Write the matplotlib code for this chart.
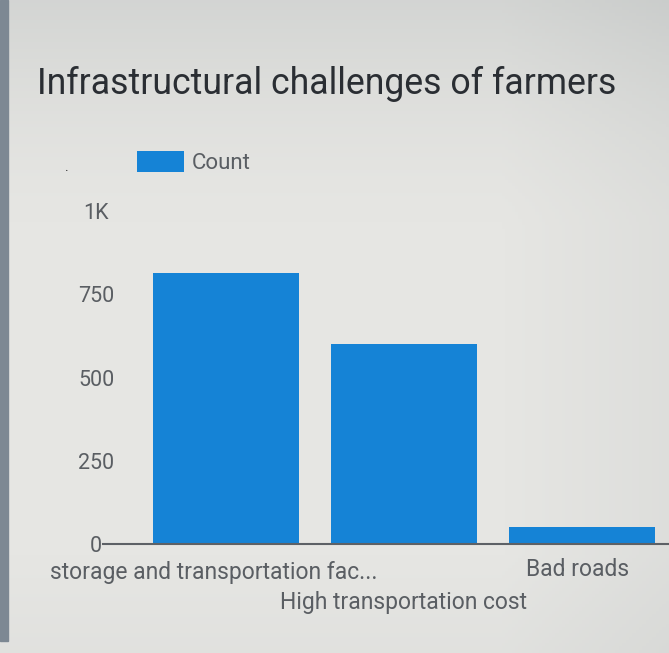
import numpy as np
import matplotlib
matplotlib.use("Agg")
import matplotlib.pyplot as plt
from matplotlib.colors import LinearSegmentedColormap

plt.rcParams['font.family'] = ['Roboto', 'DejaVu Sans']

title = "Infrastructural challenges of farmers"
categories = ["storage and transportation fac...", "High transportation cost", "Bad roads"]
counts = [815, 600, 50]
series_name = "Count"
y_ticks = [0, 250, 500, 750, 1000]
y_tick_labels = ["0", "250", "500", "750", "1K"]

bar_color = "#1583d6"
text_color = "#5a5e63"

W, H = 669, 653
fig = plt.figure(figsize=(W / 100, H / 100), dpi=100)

# screen-like backdrop: soft grey with darker top and right edge
bg = fig.add_axes([0, 0, 1, 1], zorder=-10)
yy, xx = np.mgrid[0:1:200j, 0:1:200j]
shade = 0.55 * np.clip(1 - yy / 0.35, 0, 1) ** 1.5 + 0.25 * np.clip((xx - 0.75) / 0.25, 0, 1) + 0.15 * np.clip((yy - 0.85) / 0.15, 0, 1)
cmap = LinearSegmentedColormap.from_list("bg", ["#e6e6e3", "#c4c7c6"])
bg.imshow(shade, cmap=cmap, vmin=0, vmax=1, extent=[0, 1, 0, 1], aspect="auto", origin="upper")
bg.axvspan(0, 8 / W, ymin=12 / H, ymax=1, color="#7d8893")
bg.set_xlim(0, 1)
bg.set_ylim(0, 1)
bg.axis("off")

fig.text(37 / W, 1 - 84 / H, title, fontsize=25.7, color="#2a2e33", va="center", ha="left")

ax = fig.add_axes([103 / W, (H - 544) / H, (W - 103) / W, (544 - 211) / H])
ax.patch.set_alpha(0)
x = np.arange(len(categories))
ax.bar(x, counts, width=0.82, color=bar_color, label=series_name, zorder=2)
ax.set_xlim(-0.69, 2.49)
ax.set_ylim(0, 1000)
for s in ["top", "right", "left"]:
    ax.spines[s].set_visible(False)
ax.spines["bottom"].set_color("#5d6166")
ax.spines["bottom"].set_linewidth(1.5)
ax.spines["bottom"].set_zorder(3)
ax.set_yticks(y_ticks)
ax.set_yticklabels(y_tick_labels)
ax.tick_params(axis="y", length=0, pad=5, labelsize=15.5, labelcolor=text_color)
for t in ax.get_yticklabels():
    t.set_horizontalalignment("center")
ax.set_xticks(x)
ax.set_xticklabels([])
ax.tick_params(axis="x", length=0)

# staggered category labels
label_offsets = [(-12, 28), (0, 58), (-4, 26)]
for xi, lab, (dx, dy) in zip(x, categories, label_offsets):
    ax.annotate(lab, xy=(xi, 0), xytext=(dx, -dy), textcoords="offset pixels",
                ha="center", va="center", fontsize=16.5, color=text_color,
                annotation_clip=False)

fig.legend(loc="upper left", bbox_to_anchor=(117 / W, 1 - 131 / H), frameon=False,
           fontsize=16, labelcolor=text_color, handlelength=2.1, handleheight=1.1,
           handletextpad=0.36)
fig.text(67 / W, 1 - 167 / H, ".", fontsize=10, color="#333333", ha="center", va="center")

fig.savefig("out.png", dpi=100)
